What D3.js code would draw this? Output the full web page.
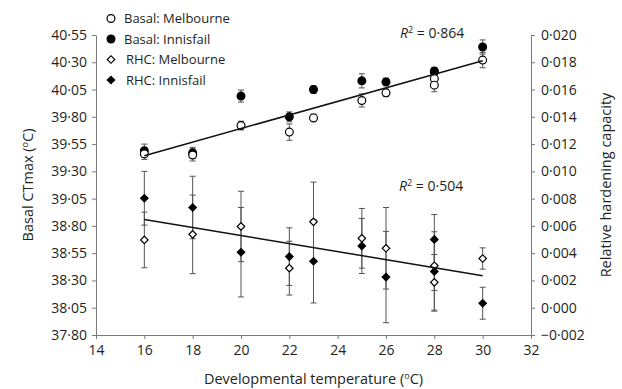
<!DOCTYPE html>
<html>
<head>
<meta charset="utf-8">
<script src="https://cdn.jsdelivr.net/npm/d3@7"></script>
<style>
  body { margin: 0; background: #fff; }
  text { font-family: "Open Sans", sans-serif; fill: #231f20; }
  .axis path, .axis line { stroke: #7a7a7a; }
</style>
</head>
<body>
<svg id="chart" width="622" height="389"></svg>
<script>
// developmental temperatures (two replicate sets at 28)
const temps = [16, 18, 20, 22, 23, 25, 26, 28, 28, 30];

// basal CTmax, left axis
const basalMelb = [39.46, 39.45, 39.72, 39.66, 39.79, 39.95, 40.02, 40.15, 40.09, 40.32];
const basalMelbErr = [0.05, 0.055, 0.04, 0.075, 0.035, 0.06, 0.035, 0.04, 0.06, 0.07];
const basalInn = [39.49, 39.47, 39.99, 39.80, 40.05, 40.13, 40.12, 40.22, 40.21, 40.44];
const basalInnErr = [0.06, 0.05, 0.055, 0.045, 0.035, 0.065, 0.035, 0.03, 0.03, 0.065];

// relative hardening capacity, right axis
const rhcMelb = [0.00497, 0.00538, 0.00596, 0.00290, 0.00630, 0.00509, 0.00436, 0.00308, 0.00186, 0.00361];
const rhcMelbErr = [0.00204, 0.00288, 0.00258, 0.00197, 0.00291, 0.00219, 0.00299, 0.00182, 0.00204, 0.00078];
const rhcInn = [0.00803, 0.00735, 0.00407, 0.00375, 0.00341, 0.00453, 0.00225, 0.00501, 0.00266, 0.00033];
const rhcInnErr = [0.00197, 0.00229, 0.00328, 0.00211, 0.00306, 0.00202, 0.00335, 0.00182, 0.00291, 0.00117];

// fitted lines (end points)
const basalFitX = [16, 30];
const basalFitY = [39.444, 40.314];
const rhcFitX = [16, 30];
const rhcFitY = [0.00647, 0.00235];

const xTicks = [14, 16, 18, 20, 22, 24, 26, 28, 30, 32];
const leftTicks = [37.80, 38.05, 38.30, 38.55, 38.80, 39.05, 39.30, 39.55, 39.80, 40.05, 40.30, 40.55];
const rightTicks = [-0.002, 0.000, 0.002, 0.004, 0.006, 0.008, 0.010, 0.012, 0.014, 0.016, 0.018, 0.020];

const legendItems = ["Basal: Melbourne", "Basal: Innisfail", "RHC: Melbourne", "RHC: Innisfail"];

const svg = d3.select("#chart");
const plotL = 96, plotR = 531, plotT = 35, plotB = 335;

const x = d3.scaleLinear().domain([14, 32]).range([plotL, plotR]);
const yL = d3.scaleLinear().domain([37.80, 40.55]).range([plotB, plotT]);
const yR = d3.scaleLinear().domain([-0.002, 0.020]).range([plotB, plotT]);

const dot = s => s.replace(".", "\u00b7");

// axes
svg.append("g")
  .attr("class", "axis")
  .attr("transform", "translate(0," + plotB + ")")
  .call(d3.axisBottom(x).tickValues(xTicks).tickSize(4).tickSizeOuter(0).tickPadding(6));

svg.append("g")
  .attr("class", "axis")
  .attr("transform", "translate(" + plotL + ",0)")
  .call(d3.axisLeft(yL).tickValues(leftTicks).tickSize(4).tickSizeOuter(0).tickPadding(5)
    .tickFormat(d => dot(d3.format(".2f")(d))));

svg.append("g")
  .attr("class", "axis")
  .attr("transform", "translate(" + plotR + ",0)")
  .call(d3.axisRight(yR).tickValues(rightTicks).tickSize(4).tickSizeOuter(0).tickPadding(6)
    .tickFormat(d => dot(d3.format(".3f")(d))));

svg.selectAll(".axis").attr("font-family", null).attr("font-size", null);
svg.selectAll(".axis text").style("fill", "#231f20").style("font-size", "14px");

// axis titles
let t = svg.append("text")
  .attr("transform", "translate(33," + ((plotT + plotB) / 2) + ") rotate(-90)")
  .attr("text-anchor", "middle")
  .style("font-size", "14.5px");
t.append("tspan").text("Basal CTmax (");
t.append("tspan").attr("dy", -5).style("font-size", "9px").text("o");
t.append("tspan").attr("dy", 5).text("C)");

svg.append("text")
  .attr("transform", "translate(611," + ((plotT + plotB) / 2) + ") rotate(-90)")
  .attr("text-anchor", "middle")
  .style("font-size", "14.5px")
  .text("Relative hardening capacity");

t = svg.append("text")
  .attr("x", (plotL + plotR) / 2)
  .attr("y", 384)
  .attr("text-anchor", "middle")
  .style("font-size", "14.5px");
t.append("tspan").text("Developmental temperature (");
t.append("tspan").attr("dy", -5).style("font-size", "9px").text("o");
t.append("tspan").attr("dy", 5).text("C)");

// error bars
function errorBars(vals, errs, y) {
  const g = svg.append("g").attr("stroke", "#555").attr("stroke-width", 1);
  temps.forEach((tp, i) => {
    const cx = x(tp);
    const y1 = y(vals[i] + errs[i]), y2 = y(vals[i] - errs[i]);
    g.append("line").attr("x1", cx).attr("x2", cx).attr("y1", y1).attr("y2", y2);
    g.append("line").attr("x1", cx - 3).attr("x2", cx + 3).attr("y1", y1).attr("y2", y1);
    g.append("line").attr("x1", cx - 3).attr("x2", cx + 3).attr("y1", y2).attr("y2", y2);
  });
}
errorBars(rhcInn, rhcInnErr, yR);
errorBars(rhcMelb, rhcMelbErr, yR);
errorBars(basalInn, basalInnErr, yL);
errorBars(basalMelb, basalMelbErr, yL);

// markers: circles, and squares turned 45 degrees for diamonds
const circle = d3.symbol().type(d3.symbolCircle).size(48);
const square = d3.symbol().type(d3.symbolSquare).size(28);

function points(vals, y, sym, rot, filled) {
  svg.append("g").selectAll("path")
    .data(vals)
    .enter().append("path")
    .attr("d", sym)
    .attr("transform", (d, i) => "translate(" + x(temps[i]) + "," + y(d) + ") rotate(" + rot + ")")
    .attr("fill", filled ? "#000" : "#fff")
    .attr("stroke", "#000")
    .attr("stroke-width", 1.2);
}
points(rhcInn, yR, square, 45, true);
points(rhcMelb, yR, square, 45, false);
points(basalInn, yL, circle, 0, true);
points(basalMelb, yL, circle, 0, false);

// regression lines
svg.append("path")
  .datum(basalFitX.map((d, i) => [x(d), yL(basalFitY[i])]))
  .attr("d", d3.line())
  .attr("stroke", "#111").attr("stroke-width", 1.5).attr("fill", "none");
svg.append("path")
  .datum(rhcFitX.map((d, i) => [x(d), yR(rhcFitY[i])]))
  .attr("d", d3.line())
  .attr("stroke", "#111").attr("stroke-width", 1.5).attr("fill", "none");

// R2 labels
function r2(label, px, py) {
  const tt = svg.append("text").attr("x", px).attr("y", py).style("font-size", "14px");
  tt.append("tspan").style("font-style", "italic").text("R");
  tt.append("tspan").attr("dy", -5).style("font-size", "9px").text("2");
  tt.append("tspan").attr("dy", 5).text(" = " + label);
}
r2("0\u00b7864", 400, 38);
r2("0\u00b7504", 399, 191);

// legend
const lg = svg.append("g");
const legSyms = [circle, circle, square, square];
const legFill = [false, true, false, true];
legendItems.forEach((name, i) => {
  const ly = 18.5 + i * 20.5;
  lg.append("path")
    .attr("d", legSyms[i])
    .attr("transform", "translate(111," + ly + ") rotate(" + (i < 2 ? 0 : 45) + ")")
    .attr("fill", legFill[i] ? "#000" : "#fff")
    .attr("stroke", "#000").attr("stroke-width", 1.2);
  lg.append("text")
    .attr("x", i < 2 ? 124 : 126)
    .attr("y", ly)
    .attr("dy", "0.35em")
    .style("font-size", "13px")
    .text(name);
});
</script>
</body>
</html>
